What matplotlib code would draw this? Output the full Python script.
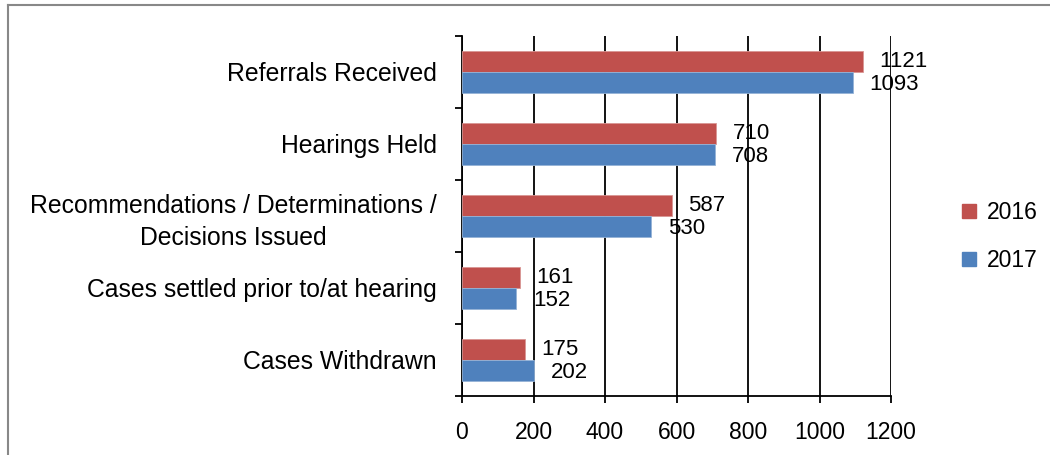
import matplotlib.pyplot as plt
from matplotlib.lines import Line2D
from matplotlib.patches import Patch

categories = ['Referrals Received', 'Hearings Held',
              'Recommendations / Determinations /\nDecisions Issued',
              'Cases settled prior to/at hearing', 'Cases Withdrawn']
vals_2016 = [1121, 710, 587, 161, 175]
vals_2017 = [1093, 708, 530, 152, 202]
xticks = [0, 200, 400, 600, 800, 1000, 1200]

red = '#C0504D'
blue = '#4F81BD'

plt.rcParams['font.family'] = ['Liberation Sans', 'DejaVu Sans']

fig = plt.figure(figsize=(10.5, 4.55), dpi=100)
ax = fig.add_axes([0.44, 0.1297, 0.8486 - 0.44, 0.9209 - 0.1297])

h = 0.285
pos = list(range(len(categories)))
ax.barh([p - h / 2 for p in pos], vals_2016, height=h, color=red,
        edgecolor='#D99694', linewidth=0.6, zorder=3)
ax.barh([p + h / 2 for p in pos], vals_2017, height=h, color=blue,
        edgecolor='#95B3D7', linewidth=0.6, zorder=3)

for p, v in zip(pos, vals_2016):
    ax.annotate(str(v), (v, p - h / 2), xytext=(12, 0), textcoords='offset points',
                ha='left', va='center', fontsize=16, zorder=4)
for p, v in zip(pos, vals_2017):
    ax.annotate(str(v), (v, p + h / 2), xytext=(12, -1.5), textcoords='offset points',
                ha='left', va='center', fontsize=16, zorder=4)

ax.set_xlim(0, 1200)
ax.set_ylim(len(categories) - 0.5, -0.5)
ax.set_xticks(xticks)
ax.set_xticklabels([str(t) for t in xticks], fontsize=16.5)
ax.set_yticks([p - 0.5 for p in pos] + [len(categories) - 0.5])
ax.set_yticklabels([])
ax.set_yticks(pos, minor=True)
ax.set_yticklabels(categories, minor=True, fontsize=17.8, ha='right',
                   multialignment='center', linespacing=1.4)
ax.tick_params(axis='y', which='minor', length=0, pad=18)
ax.tick_params(axis='y', which='major', length=5, width=1.3, direction='out')
ax.tick_params(axis='x', length=5, width=1.3, direction='out', pad=13)

ax.grid(axis='x', color='black', linewidth=1.3, zorder=1)
for s in ['top', 'right']:
    ax.spines[s].set_visible(False)
ax.spines['left'].set_linewidth(1.3)
ax.spines['bottom'].set_linewidth(1.3)

handles = [Patch(color=red, label='2016'), Patch(color=blue, label='2017')]
fig.legend(handles=handles, loc='center left', bbox_to_anchor=(0.897, 0.48),
           frameon=False, fontsize=16.5, handlelength=0.6, handleheight=0.6,
           handletextpad=0.45, labelspacing=1.1)

# outer chart border (top and left only visible)
fig.add_artist(Line2D([0.0076, 1.0], [0.989, 0.989], color='#888888', linewidth=1.5))
fig.add_artist(Line2D([0.0076, 0.0076], [0.0, 0.989], color='#888888', linewidth=1.5))

fig.savefig('out.png', dpi=100)
